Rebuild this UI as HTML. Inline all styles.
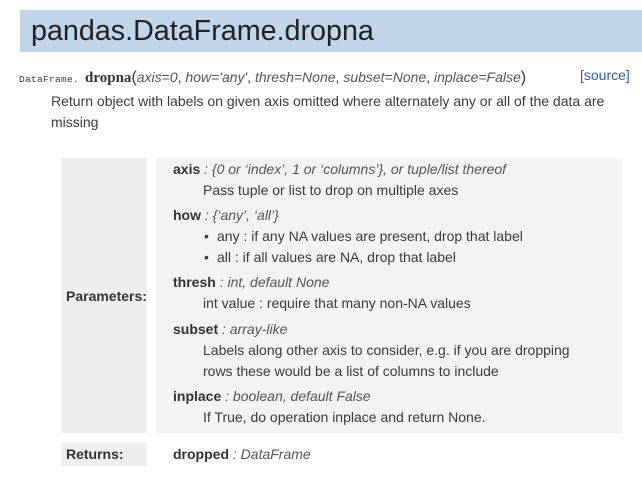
<!DOCTYPE html>
<html><head><style>
body{margin:0;width:642px;height:477px;background:#fff;font-family:"Liberation Sans",sans-serif;color:#3a3a3a;position:relative;overflow:hidden}
.a{position:absolute;white-space:nowrap;font-size:14px;line-height:16px}
i{color:#555}
b{color:#333}
</style></head><body>
<div style="position:absolute;left:20px;top:10px;width:622px;height:42px;background:#c0d4ea"></div>
<div class="a" style="left:31px;top:14px;font-size:28.7px;line-height:34px;color:#222">pandas.DataFrame.dropna</div>
<div class="a" style="left:19px;top:69px;font-size:14px"><span style="font-family:'Liberation Mono',monospace;font-size:9.5px;letter-spacing:0.3px">DataFrame. </span><b style="font-family:'Liberation Serif',serif;font-size:15px">dropna</b><span style="font-size:16px">(</span><i>axis=0</i>, <i>how='any'</i>, <i>thresh=None</i>, <i>subset=None</i>, <i>inplace=False</i><span style="font-size:16px">)</span></div>
<div class="a" style="left:580px;top:67px;color:#2a5db0">[source]</div>
<div class="a" style="left:51px;top:93px">Return object with labels on given axis omitted where alternately any or all of the data are</div>
<div class="a" style="left:51px;top:114px">missing</div>
<div style="position:absolute;left:61px;top:158px;width:86px;height:275px;background:#eee"></div>
<div style="position:absolute;left:156px;top:158px;width:466px;height:275px;background:#f3f3f3"></div>
<div style="position:absolute;left:61px;top:443px;width:86px;height:23px;background:#eee"></div>
<div class="a" style="left:66px;top:288px"><b>Parameters:</b></div>
<div class="a" style="left:66px;top:446px"><b>Returns:</b></div>
<div class="a" style="left:173px;top:161px"><b>axis</b> <i>: {0 or ‘index’, 1 or ‘columns’}, or tuple/list thereof</i></div>
<div class="a" style="left:203px;top:182px">Pass tuple or list to drop on multiple axes</div>
<div class="a" style="left:173px;top:207px"><b>how</b> <i>: {‘any’, ‘all’}</i></div>
<div class="a" style="left:204px;top:228px">•</div><div class="a" style="left:217px;top:228px">any : if any NA values are present, drop that label</div>
<div class="a" style="left:204px;top:249px">•</div><div class="a" style="left:217px;top:249px">all : if all values are NA, drop that label</div>
<div class="a" style="left:173px;top:274px"><b>thresh</b> <i>: int, default None</i></div>
<div class="a" style="left:203px;top:295px">int value : require that many non-NA values</div>
<div class="a" style="left:173px;top:321px"><b>subset</b> <i>: array-like</i></div>
<div class="a" style="left:203px;top:342px">Labels along other axis to consider, e.g. if you are dropping</div>
<div class="a" style="left:203px;top:363px">rows these would be a list of columns to include</div>
<div class="a" style="left:173px;top:388px"><b>inplace</b> <i>: boolean, default False</i></div>
<div class="a" style="left:203px;top:409px">If True, do operation inplace and return None.</div>
<div class="a" style="left:173px;top:446px"><b>dropped</b> <i>: DataFrame</i></div>
</body></html>
